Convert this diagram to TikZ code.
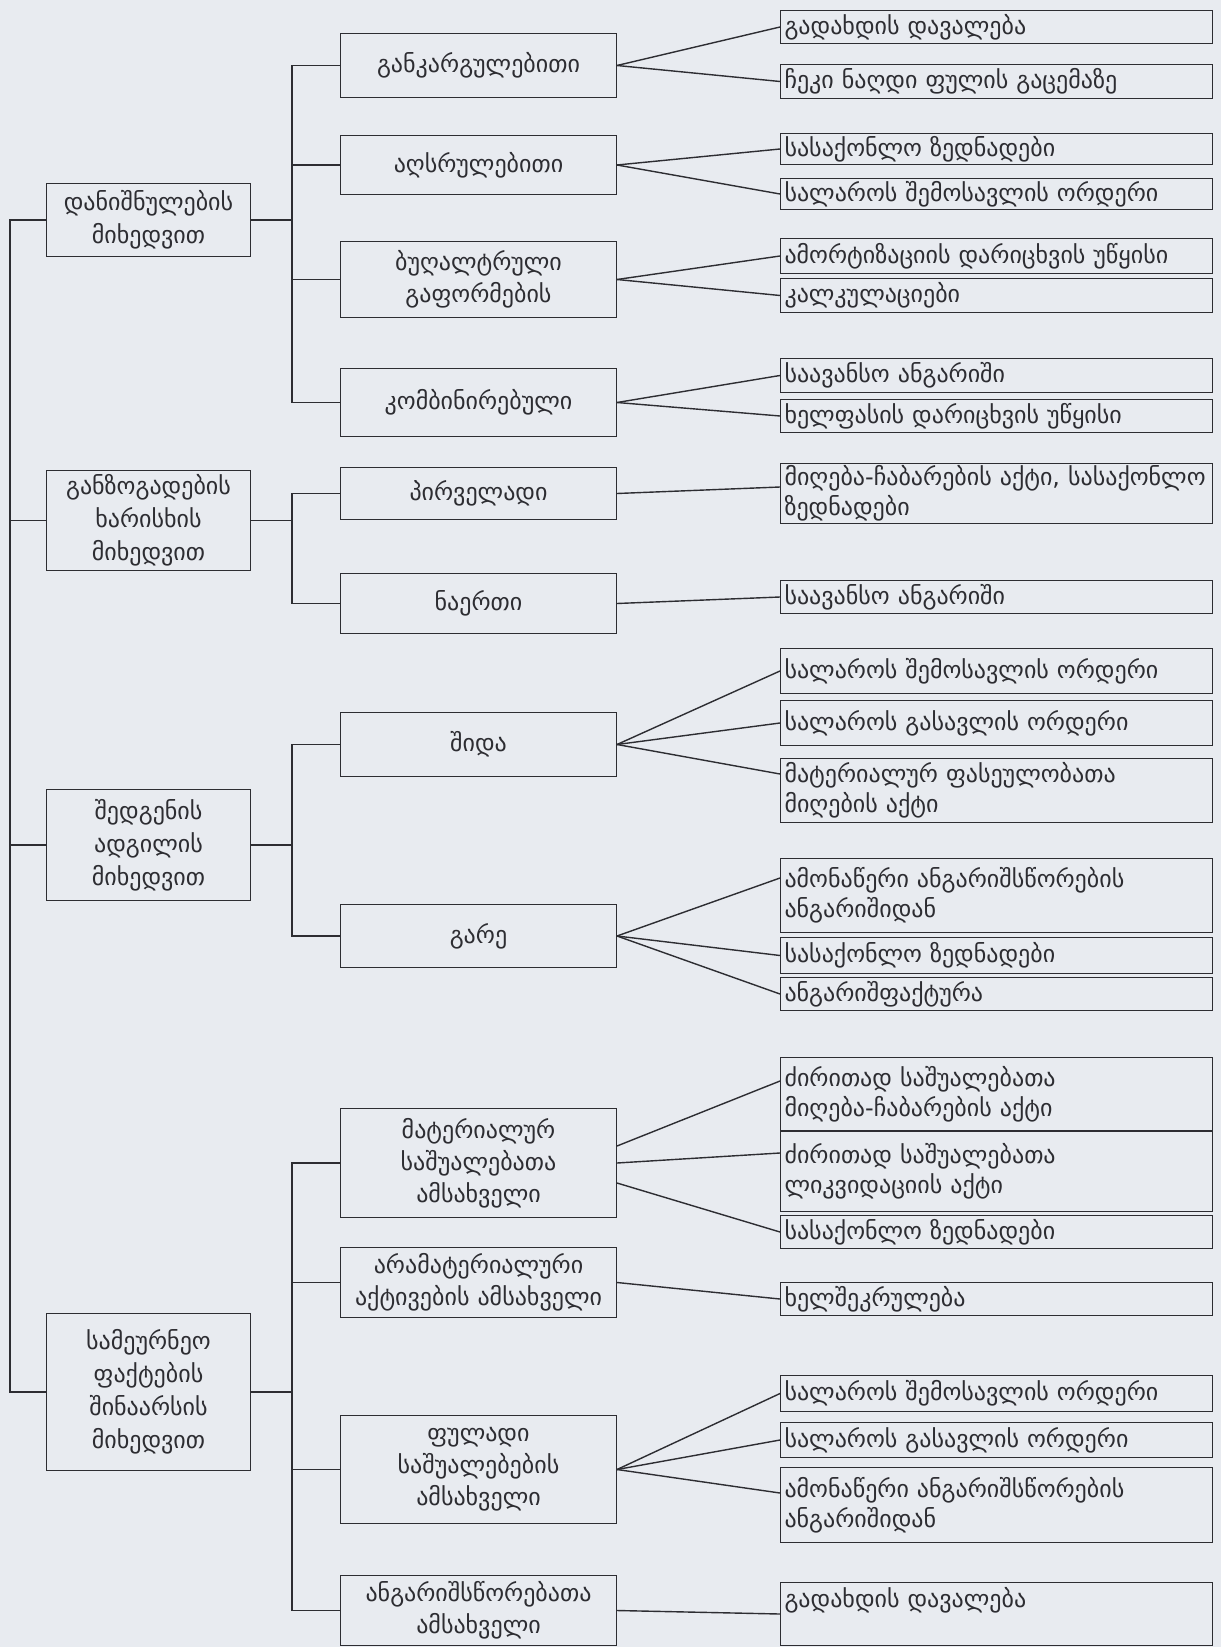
\documentclass[tikz,border=0pt]{standalone}
\usepackage{fontspec}
\setmainfont{DejaVu Sans}
\usetikzlibrary{positioning}
\definecolor{paper}{RGB}{232,235,240}
\definecolor{ink}{RGB}{45,45,50}

\begin{document}
\begin{tikzpicture}[
    x=0.5pt, y=-0.5pt,
    every node/.style={text=ink},
    box/.style={draw=ink, line width=0.5pt, anchor=north west, inner xsep=2pt, inner ysep=1pt},
    grp/.style={box, text width=98pt, align=center, font=\fontsize{12}{16.5}\selectfont},
    kind/.style={box, text width=134pt, align=center, font=\fontsize{12}{16}\selectfont},
    doc/.style={box, text width=212pt, align=left, font=\fontsize{12}{15}\selectfont},
    link/.style={draw=ink, line width=0.7pt}
  ]
  \fill[paper] (0,0) rectangle (1221,1647);
  \useasboundingbox (0,0) rectangle (1221,1647);

  % classification groups
  \node[grp, minimum height=36.5pt] (g1) at (46,183) {დანიშნულების\\მიხედვით};
  \node[grp, minimum height=50pt] (g2) at (46,470) {განზოგადების\\ხარისხის\\მიხედვით};
  \node[grp, minimum height=55.5pt] (g3) at (46,789) {შედგენის\\ადგილის\\მიხედვით};
  \node[grp, minimum height=78.5pt] (g4) at (46,1313) {სამეურნეო\\ფაქტების\\შინაარსის\\მიხედვით};

  % kinds
  \node[kind, minimum height=32pt] (k1) at (340,33) {განკარგულებითი};
  \node[kind, minimum height=29.5pt] (k2) at (340,135) {აღსრულებითი};
  \node[kind, minimum height=38pt] (k3) at (340,241) {ბუღალტრული\\გაფორმების};
  \node[kind, minimum height=34pt] (k4) at (340,368) {კომბინირებული};
  \node[kind, minimum height=26pt] (k5) at (340,467) {პირველადი};
  \node[kind, minimum height=30pt] (k6) at (340,573) {ნაერთი};
  \node[kind, minimum height=32pt] (k7) at (340,712) {შიდა};
  \node[kind, minimum height=31.5pt] (k8) at (340,904) {გარე};
  \node[kind, minimum height=54.5pt] (k9) at (340,1108) {მატერიალურ\\საშუალებათა\\ამსახველი};
  \node[kind, minimum height=35pt] (k10) at (340,1247) {არამატერიალური\\აქტივების ამსახველი};
  \node[kind, minimum height=54pt] (k11) at (340,1415) {ფულადი\\საშუალებების\\ამსახველი};
  \node[kind, minimum height=35pt] (k12) at (340,1575) {ანგარიშსწორებათა\\ამსახველი};

  % documents
  \node[doc, minimum height=16.5pt] (d1) at (780,10) {გადახდის დავალება};
  \node[doc, minimum height=17pt] (d2) at (780,64) {ჩეკი ნაღდი ფულის გაცემაზე};
  \node[doc, minimum height=15.5pt] (d3) at (780,133) {სასაქონლო ზედნადები};
  \node[doc, minimum height=15.5pt] (d4) at (780,178) {სალაროს შემოსავლის ორდერი};
  \node[doc, minimum height=17.5pt] (d5) at (780,238) {ამორტიზაციის დარიცხვის უწყისი};
  \node[doc, minimum height=17pt] (d6) at (780,278) {კალკულაციები};
  \node[doc, minimum height=17pt] (d7) at (780,358) {საავანსო ანგარიში};
  \node[doc, minimum height=16.5pt] (d8) at (780,399) {ხელფასის დარიცხვის უწყისი};
  \node[doc, minimum height=29.5pt] (d9) at (780,463) {მიღება-ჩაბარების აქტი, სასაქონლო\\ზედნადები};
  \node[doc, minimum height=16.5pt] (d10) at (780,580) {საავანსო ანგარიში};
  \node[doc, minimum height=22.5pt] (d11) at (780,648) {სალაროს შემოსავლის ორდერი};
  \node[doc, minimum height=22.5pt] (d12) at (780,700) {სალაროს გასავლის ორდერი};
  \node[doc, minimum height=32pt] (d13) at (780,758) {მატერიალურ ფასეულობათა\\მიღების აქტი};
  \node[doc, minimum height=37pt] (d14) at (780,858) {ამონაწერი ანგარიშსწორების\\ანგარიშიდან};
  \node[doc, minimum height=18pt, below=2pt of d14] (d15) {სასაქონლო ზედნადები};
  \node[doc, minimum height=16.5pt, below=1.5pt of d15] (d16) {ანგარიშფაქტურა};
  \node[doc, minimum height=36.5pt] (d17) at (780,1057) {ძირითად საშუალებათა\\მიღება-ჩაბარების აქტი};
  \node[doc, minimum height=40pt, below=0pt of d17] (d18) {ძირითად საშუალებათა\\ლიკვიდაციის აქტი};
  \node[doc, minimum height=16.5pt] (d19) at (780,1215) {სასაქონლო ზედნადები};
  \node[doc, minimum height=16.5pt] (d20) at (780,1282) {ხელშეკრულება};
  \node[doc, minimum height=18pt] (d21) at (780,1375) {სალაროს შემოსავლის ორდერი};
  \node[doc, minimum height=17.5pt] (d22) at (780,1422) {სალაროს გასავლის ორდერი};
  \node[doc, minimum height=37.5pt] (d23) at (780,1467) {ამონაწერი ანგარიშსწორების\\ანგარიშიდან};
  \node[doc, minimum height=31.5pt, text depth=17pt] (d24) at (780,1582) {გადახდის დავალება};

  % trunk on the left
  \draw[link] (g1.west) -- ++(-36,0) |- (g4.west);
  \draw[link] (g2.west) -- ++(-36,0);
  \draw[link] (g3.west) -- ++(-36,0);

  % brackets to the kinds
  \coordinate (bx) at (292,0);
  \draw[link] (g1.east) -- (g1.east -| bx);
  \draw[link] (k1.west) -- (k1.west -| bx) |- (k4.west);
  \draw[link] (k2.west) -- (k2.west -| bx);
  \draw[link] (k3.west) -- (k3.west -| bx);
  \draw[link] (g2.east) -- (g2.east -| bx);
  \draw[link] (k5.west) -- (k5.west -| bx) |- (k6.west);
  \draw[link] (g3.east) -- (g3.east -| bx);
  \draw[link] (k7.west) -- (k7.west -| bx) |- (k8.west);
  \draw[link] (g4.east) -- (g4.east -| bx);
  \draw[link] (k9.west) -- (k9.west -| bx) |- (k12.west);
  \draw[link] (k10.west) -- (k10.west -| bx);
  \draw[link] (k11.west) -- (k11.west -| bx);

  % fans to the documents
  \draw[link] (k1.east) -- (d1.west);
  \draw[link] (k1.east) -- (d2.west);
  \draw[link] (k2.east) -- (d3.west);
  \draw[link] (k2.east) -- (d4.west);
  \draw[link] (k3.east) -- (d5.west);
  \draw[link] (k3.east) -- (d6.west);
  \draw[link] (k4.east) -- (d7.west);
  \draw[link] (k4.east) -- (d8.west);
  \draw[link] (k5.east) -- ([yshift=-12pt]d9.north west);
  \draw[link] (k6.east) -- (d10.west);
  \draw[link] (k7.east) -- (d11.west);
  \draw[link] (k7.east) -- (d12.west);
  \draw[link] (k7.east) -- ([yshift=-8pt]d13.north west);
  \draw[link] (k8.east) -- ([yshift=-10pt]d14.north west);
  \draw[link] (k8.east) -- (d15.west);
  \draw[link] (k8.east) -- (d16.west);
  \draw[link] ([yshift=8.5pt]k9.east) -- ([yshift=-12pt]d17.north west);
  \draw[link] (k9.east) -- ([yshift=-11pt]d18.north west);
  \draw[link] ([yshift=-10pt]k9.east) -- (d19.west);
  \draw[link] (k10.east) -- (d20.west);
  \draw[link] (k11.east) -- (d21.west);
  \draw[link] (k11.east) -- (d22.west);
  \draw[link] (k11.east) -- ([yshift=-13pt]d23.north west);
  \draw[link] (k12.east) -- (d24.west);
\end{tikzpicture}
\end{document}
